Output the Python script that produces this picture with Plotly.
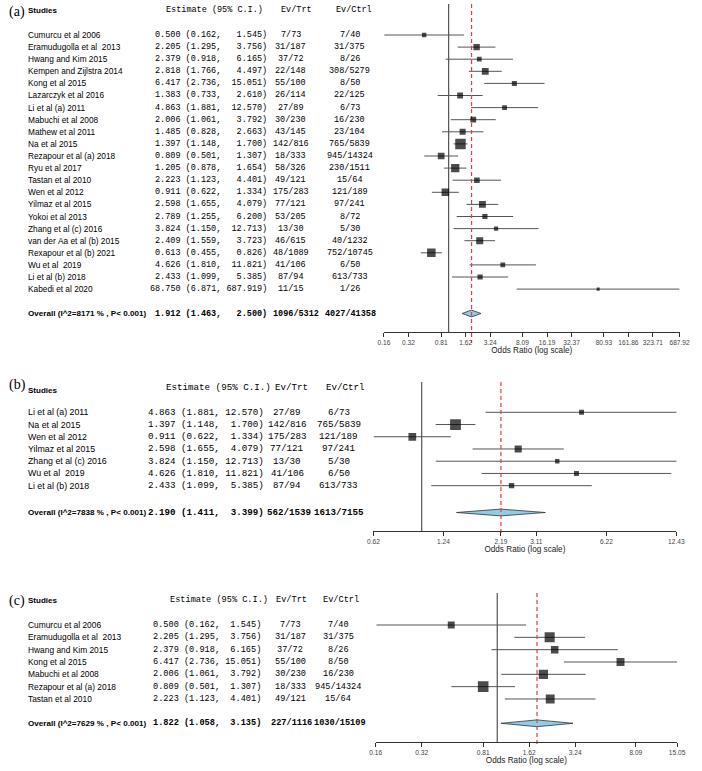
import math
import plotly.graph_objects as go

# ---- data -------------------------------------------------------------
studies = ["Cumurcu et al 2006", "Eramudugolla et al  2013", "Hwang and Kim 2015",
           "Kempen and Zijlstra 2014", "Kong et al 2015", "Lazarczyk et al 2016",
           "Li et al (a) 2011", "Mabuchi et al 2008", "Mathew et al 2011", "Na et al 2015",
           "Rezapour et al (a) 2018", "Ryu et al 2017", "Tastan et al 2010", "Wen et al 2012",
           "Yilmaz et al 2015", "Yokoi et al 2013", "Zhang et al (c) 2016",
           "van der Aa et al (b) 2015", "Rexapour et al (b) 2021", "Wu et al  2019",
           "Li et al (b) 2018", "Kabedi et al 2020"]
est = [0.500, 2.205, 2.379, 2.818, 6.417, 1.383, 4.863, 2.006, 1.485, 1.397, 0.809, 1.205,
       2.223, 0.911, 2.598, 2.789, 3.824, 2.409, 0.613, 4.626, 2.433, 68.750]
lo = [0.162, 1.295, 0.918, 1.766, 2.736, 0.733, 1.881, 1.061, 0.828, 1.148, 0.501, 0.878,
      1.123, 0.622, 1.655, 1.255, 1.150, 1.559, 0.455, 1.810, 1.099, 6.871]
hi = [1.545, 3.756, 6.165, 4.497, 15.051, 2.610, 12.570, 3.792, 2.663, 1.700, 1.307, 1.654,
      4.401, 1.334, 4.079, 6.200, 12.713, 3.723, 0.826, 11.821, 5.385, 687.919]
ev_trt = ["7/73", "31/187", "37/72", "22/148", "55/100", "26/114", "27/89", "30/230", "43/145",
          "142/816", "18/333", "58/326", "49/121", "175/283", "77/121", "53/205", "13/30",
          "46/615", "48/1089", "41/106", "87/94", "11/15"]
ev_ctrl = ["7/40", "31/375", "8/26", "308/5279", "8/50", "22/125", "6/73", "16/230", "23/104",
           "765/5839", "945/14324", "230/1511", "15/64", "121/189", "97/241", "8/72", "5/30",
           "40/1232", "752/10745", "6/50", "613/733", "1/26"]

subset_b = ["Li et al (a) 2011", "Na et al 2015", "Wen et al 2012", "Yilmaz et al 2015",
            "Zhang et al (c) 2016", "Wu et al  2019", "Li et al (b) 2018"]
subset_c = ["Cumurcu et al 2006", "Eramudugolla et al  2013", "Hwang and Kim 2015",
            "Kong et al 2015", "Mabuchi et al 2008", "Rezapour et al (a) 2018", "Tastan et al 2010"]

overall_i2 = ["8171", "7838", "7629"]
overall_est = [1.912, 2.190, 1.822]
overall_lo = [1.463, 1.411, 1.058]
overall_hi = [2.500, 3.399, 3.135]
overall_trt = ["1096/5312", "562/1539", "227/1116"]
overall_ctrl = ["4027/41358", "1613/7155", "1030/15109"]

ticks_a = [0.16, 0.32, 0.81, 1.62, 3.24, 8.09, 16.19, 32.37, 80.93, 161.86, 323.71, 687.92]
ticks_b = [0.62, 1.24, 2.19, 3.11, 6.22, 12.43]
ticks_c = [0.16, 0.32, 0.81, 1.62, 3.24, 8.09, 15.05]

# ---- layout (pixel geometry per panel) --------------------------------
W, H = 702, 771
SANS = "Liberation Sans"
MONO = "Liberation Mono"
SERIF = "Liberation Serif"
NB = "\u00a0"

panels = [
    dict(tag="(a)", names=studies, ticks=ticks_a,
         x0=386.7, x1=689.3, top=4, first=35, step=12.1, overall=313.5, axis=332, bottom=343,
         tag_y=12, studies_y=11, hdr_y=10.5, sans=8.3, mono=8.5, smax=10.5,
         est_r=268.3, trt_c=291.5, ctrl_c=352, ov_trt_c=297, ov_ctrl_c=353,
         hdr_est=213.7, hdr_trt=297.5, hdr_ctrl=355.7),
    dict(tag="(b)", names=subset_b, ticks=ticks_b,
         x0=376, x1=686, top=382, first=412.3, step=12.23, overall=512.5, axis=531, bottom=535,
         tag_y=385, studies_y=390, hdr_y=387.5, sans=8.8, mono=9.2, smax=10.8,
         est_r=265, trt_c=288, ctrl_c=340.5, ov_trt_c=290, ov_ctrl_c=341,
         hdr_est=217.5, hdr_trt=292.5, hdr_ctrl=347),
    dict(tag="(c)", names=subset_c, ticks=ticks_c,
         x0=378.3, x1=686.7, top=593, first=625, step=12.33, overall=723.3, axis=742, bottom=747,
         tag_y=600.7, studies_y=600.7, hdr_y=600, sans=8.4, mono=8.6, smax=10.6,
         est_r=261.7, trt_c=291, ctrl_c=340, ov_trt_c=292, ov_ctrl_c=342,
         hdr_est=217.5, hdr_trt=292.5, hdr_ctrl=343),
]


def nb(s):
    return s.replace(" ", NB)


fig = go.Figure()
annotations = []

for k, p in enumerate(panels, start=1):
    j = k - 1
    sfx = "" if k == 1 else str(k)
    xa, ya = "x" + sfx, "y" + sfx
    idx = [studies.index(n) for n in p["names"]]
    n = len(idx)
    rows = list(range(n))

    def row_of(px, p=p):
        return (px - p["first"]) / p["step"]

    p_est = [est[i] for i in idx]
    p_lo = [lo[i] for i in idx]
    p_hi = [hi[i] for i in idx]
    ov_row = row_of(p["overall"])
    ov = overall_est[j]

    # box size from the study's standard error (wider CI -> smaller box)
    se = [(math.log(h) - math.log(l)) / 3.92 for l, h in zip(p_lo, p_hi)]
    sizes = [p["smax"] * math.sqrt(min(se) / s) for s in se]

    # null line
    fig.add_trace(go.Scatter(x=[1, 1], y=[row_of(p["top"]), row_of(p["axis"])], mode="lines",
                             line=dict(color="#444444", width=1.1), xaxis=xa, yaxis=ya,
                             hoverinfo="skip"))
    # whiskers
    wx, wy = [], []
    for r, l, h in zip(rows, p_lo, p_hi):
        wx += [l, h, None]
        wy += [r, r, None]
    fig.add_trace(go.Scatter(x=wx, y=wy, mode="lines", line=dict(color="#555555", width=1),
                             xaxis=xa, yaxis=ya, hoverinfo="skip"))
    # overall diamond
    dh = 3.4 / p["step"]
    fig.add_trace(go.Scatter(
        x=[overall_lo[j], ov, overall_hi[j], ov, overall_lo[j]],
        y=[ov_row, ov_row - dh, ov_row, ov_row + dh, ov_row],
        mode="lines", fill="toself", fillcolor="#8ECDE6",
        line=dict(color="#333333", width=0.8), xaxis=xa, yaxis=ya, hoverinfo="skip"))
    # overall dashed line
    fig.add_trace(go.Scatter(x=[ov, ov], y=[row_of(p["top"]), row_of(p["bottom"])], mode="lines",
                             line=dict(color="#E83A3A", width=1.2, dash="4px,3px"),
                             xaxis=xa, yaxis=ya, hoverinfo="skip"))
    # boxes
    fig.add_trace(go.Scatter(x=p_est, y=rows, mode="markers",
                             marker=dict(symbol="square", size=sizes, color="black",
                                         line=dict(width=0)),
                             xaxis=xa, yaxis=ya, hoverinfo="skip"))

    t = p["ticks"]
    fig.update_layout(**{
        "xaxis" + sfx: dict(
            type="log", range=[math.log10(t[0]), math.log10(t[-1])],
            domain=[p["x0"] / W, p["x1"] / W], anchor="free", position=1 - p["axis"] / H,
            tickvals=t, ticktext=["%.2f" % v for v in t], ticks="outside", ticklen=4,
            tickcolor="#333333", showline=True, linecolor="#333333", linewidth=1,
            showgrid=False, zeroline=False, tickangle=0, fixedrange=True,
            tickfont=dict(family=SANS, size=6.6, color="#444444"),
            title=dict(text="Odds Ratio (log scale)", standoff=2,
                       font=dict(family=SANS, size=8.2, color="#222222"))),
        "yaxis" + sfx: dict(
            domain=[1 - p["bottom"] / H, 1 - p["top"] / H],
            range=[row_of(p["bottom"]), row_of(p["top"])], visible=False,
            anchor=xa, fixedrange=True),
    })

    def ann(text, xpx, y, yref, anchor, font, size, bold=False):
        annotations.append(dict(
            text=("<b>%s</b>" % nb(text)) if bold else nb(text), x=xpx / W, xref="paper",
            y=y, yref=yref, xanchor=anchor, yanchor="middle", showarrow=False,
            font=dict(family=font, size=size, color="black"), borderpad=0))

    # header
    ann(p["tag"], 2, 1 - p["tag_y"] / H, "paper", "left", SERIF, 14)
    ann("Studies", 22, 1 - p["studies_y"] / H, "paper", "left", SANS, 8, bold=True)
    ann("Estimate (95% C.I.)", p["hdr_est"], 1 - p["hdr_y"] / H, "paper", "center", MONO, p["mono"])
    ann("Ev/Trt", p["hdr_trt"], 1 - p["hdr_y"] / H, "paper", "center", MONO, p["mono"])
    ann("Ev/Ctrl", p["hdr_ctrl"], 1 - p["hdr_y"] / H, "paper", "center", MONO, p["mono"])

    hw = max(len("%.3f" % v) for v in p_hi + [overall_hi[j]])

    def est_str(e, l, h):
        return "%.3f (%.3f, %s)" % (e, l, ("%.3f" % h).rjust(hw))

    for r, i in zip(rows, idx):
        ann(studies[i], 22, r, ya, "left", SANS, p["sans"])
        ann(est_str(est[i], lo[i], hi[i]), p["est_r"], r, ya, "right", MONO, p["mono"])
        ann(ev_trt[i], p["trt_c"], r, ya, "center", MONO, p["mono"])
        ann(ev_ctrl[i], p["ctrl_c"], r, ya, "center", MONO, p["mono"])

    ann("Overall (I^2=%s %% , P< 0.001)" % overall_i2[j], 22, ov_row, ya, "left", SANS,
        8.1, bold=True)
    ann(est_str(ov, overall_lo[j], overall_hi[j]), p["est_r"], ov_row, ya, "right", MONO,
        p["mono"], bold=True)
    ann(overall_trt[j], p["ov_trt_c"], ov_row, ya, "center", MONO, p["mono"], bold=True)
    ann(overall_ctrl[j], p["ov_ctrl_c"], ov_row, ya, "center", MONO, p["mono"], bold=True)

fig.update_layout(width=W, height=H, margin=dict(l=0, r=0, t=0, b=0),
                  paper_bgcolor="white", plot_bgcolor="white", showlegend=False,
                  hovermode=False, annotations=annotations)

# the page's default body margin would push the figure 8px off the window
fig.write_html("out.html", config={"displayModeBar": False},
               post_script="document.body.style.margin='0px';")
